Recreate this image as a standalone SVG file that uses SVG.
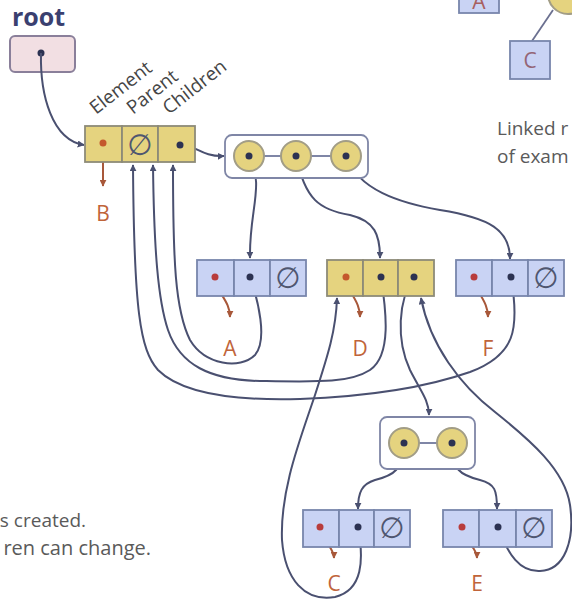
<svg xmlns="http://www.w3.org/2000/svg" width="572" height="602" viewBox="0 0 572 602">
  <style>
    .cell-y { fill: #e5d37f; stroke: #8d8b78; stroke-width: 1.8; }
    .cell-b { fill: #c9d3f4; stroke: #7886ac; stroke-width: 1.8; }
    .grp { fill: #ffffff; stroke: #7f86a6; stroke-width: 1.8; }
    .ring { fill: #e5d37f; stroke: #a29d86; stroke-width: 2; }
    .ptr { fill: #2c3252; }
    .elem-dot-y { fill: #c4582c; }
    .elem-dot-b { fill: #b83c3c; }
    .link { fill: none; stroke: #4a5070; stroke-width: 2; }
    .elink { fill: none; stroke: #a8583a; stroke-width: 2; }
    .null { font-family: "DejaVu Sans", sans-serif; font-size: 29px; fill: #4f5670; text-anchor: middle; }
    .lbl { font-family: "Open Sans", "Liberation Sans", sans-serif; font-size: 21px; fill: #c0643a; text-anchor: middle; }
    .field { font-family: "Open Sans", "Liberation Sans", sans-serif; font-size: 19px; fill: #454545; }
    .note { font-family: "Open Sans", "Liberation Sans", sans-serif; font-size: 19px; fill: #5a5a5a; }
  </style>
  <defs>
    <marker id="arr" viewBox="0 0 10 10" refX="9" refY="5" markerWidth="7" markerHeight="7" markerUnits="userSpaceOnUse" orient="auto">
      <path d="M0,0 L10,5 L0,10 z" fill="#4a5070"/>
    </marker>
    <marker id="earr" viewBox="0 0 10 10" refX="9" refY="5" markerWidth="7" markerHeight="7" markerUnits="userSpaceOnUse" orient="auto">
      <path d="M0,0 L10,5 L0,10 z" fill="#a8583a"/>
    </marker>
  </defs>

  <rect width="572" height="602" fill="#ffffff"/>

  <!-- small tree sketch, top right -->
  <g id="tree-sketch">
    <line x1="553" y1="10" x2="532" y2="41" stroke="#6b7090" stroke-width="1.8"/>
    <circle cx="568" cy="-6" r="20" class="ring"/>
    <rect x="459" y="-6" width="40" height="19" class="cell-b"/>
    <text x="479" y="9" class="lbl" style="fill:#a86060">A</text>
    <rect x="510" y="41" width="40" height="38" class="cell-b"/>
    <text x="530" y="68" class="lbl" style="fill:#946575">C</text>
  </g>

  <g id="caption-right">
    <text x="497" y="135" class="note">Linked r</text>
    <text x="497" y="163" class="note">of exam</text>
  </g>

  <g id="caption-left">
    <text x="86" y="527" class="note" text-anchor="end">s created.</text>
    <text x="151" y="555" class="note" text-anchor="end" style="font-size:20px">ren can change.</text>
  </g>

  <!-- root pointer -->
  <g id="root">
    <text x="12" y="26" font-family="'Open Sans', 'Liberation Sans', sans-serif" font-size="25" font-weight="bold" fill="#3a4070">root</text>
    <rect x="10" y="36" width="65" height="36" rx="5" fill="#f2dfe3" stroke="#8a7f9a" stroke-width="2"/>
    <circle cx="41" cy="53" r="3.5" class="ptr"/>
  </g>

  <!-- field names -->
  <g id="field-names">
    <text class="field" transform="translate(96,115) rotate(-38)">Element</text>
    <text class="field" transform="translate(133,115) rotate(-38)">Parent</text>
    <text class="field" transform="translate(169,115) rotate(-38)">Children</text>
  </g>

  <!-- connectors -->
  <g id="connectors">
    <path class="link" d="M41,53 C40,95 52,140 84,145" marker-end="url(#arr)"/>
    <path class="link" d="M180,145 C195,144 201,157 224,156" marker-end="url(#arr)"/>
    <path class="link" d="M249,156 C265,185 249,210 250,258" marker-end="url(#arr)"/>
    <path class="link" d="M296,156 C305,200 320,210 350,215 C375,221 380,235 380,258" marker-end="url(#arr)"/>
    <path class="link" d="M346,156 C358,190 400,203 440,210 C490,218 510,230 510,259" marker-end="url(#arr)"/>
    <path class="link" d="M414,277 C398,300 396,340 410,370 C420,390 429,400 429,415" marker-end="url(#arr)"/>
    <path class="link" d="M404,443 C402,470 395,475 375,480 C362,484 358,492 358,509" marker-end="url(#arr)"/>
    <path class="link" d="M452,443 C452,470 460,475 480,480 C495,484 497,490 497,509" marker-end="url(#arr)"/>

    <!-- parent links back to the root element -->
    <path class="link" d="M250,277 C258,300 268,340 255,355 C240,370 205,365 190,340 C175,310 173,260 173,165" marker-end="url(#arr)"/>
    <path class="link" d="M381,277 C386,310 392,355 370,370 C350,383 320,382 260,381 C210,380 180,365 168,330 C158,300 154,250 153,165" marker-end="url(#arr)"/>
    <path class="link" d="M511,277 C520,330 515,355 470,372 C430,386 380,396 300,399 C230,401 180,392 158,370 C140,350 134,310 133,165" marker-end="url(#arr)"/>
    <path class="link" d="M358,527 C364,560 363,590 335,597 C305,602 285,580 282,540 C280,490 300,440 315,395 C328,355 336,330 337,298" marker-end="url(#arr)"/>
    <path class="link" d="M498,527 C508,555 520,572 540,571 C565,570 575,540 570,505 C565,470 530,440 495,412 C460,385 430,345 421,298" marker-end="url(#arr)"/>

    <!-- element links -->
    <path class="elink" d="M103,143 L103,186" marker-end="url(#earr)"/>
    <path class="elink" d="M215,277 C216,293 230,300 230,317" marker-end="url(#earr)"/>
    <path class="elink" d="M346,277 C347,293 360,300 360,317" marker-end="url(#earr)"/>
    <path class="elink" d="M474,277 C475,293 488,300 488,317" marker-end="url(#earr)"/>
    <path class="elink" d="M320,527 C321,542 334,546 334,558" marker-end="url(#earr)"/>
    <path class="elink" d="M462,527 C463,542 477,546 477,558" marker-end="url(#earr)"/>
  </g>

  <!-- node B (root element) -->
  <g id="node-B">
    <rect x="85" y="126" width="37" height="36" class="cell-y"/>
    <rect x="122" y="126" width="36" height="36" class="cell-y"/>
    <rect x="158" y="126" width="37" height="36" class="cell-y"/>
    <circle cx="103" cy="143" r="3.5" class="elem-dot-y"/>
    <text x="140" y="155" class="null">∅</text>
    <circle cx="180" cy="145" r="3.5" class="ptr"/>
    <text x="103" y="221" class="lbl">B</text>
  </g>

  <g id="children-B">
    <rect x="225" y="135" width="143" height="43" rx="7" class="grp"/>
    <line x1="249" y1="156" x2="346" y2="156" stroke="#7f86a6" stroke-width="1.8"/>
    <circle cx="249" cy="156" r="15" class="ring"/>
    <circle cx="296" cy="156" r="15" class="ring"/>
    <circle cx="346" cy="156" r="15" class="ring"/>
    <circle cx="249" cy="156" r="3.5" class="ptr"/>
    <circle cx="296" cy="156" r="3.5" class="ptr"/>
    <circle cx="346" cy="156" r="3.5" class="ptr"/>
  </g>

  <g id="node-A">
    <rect x="197" y="260" width="37" height="36" class="cell-b"/>
    <rect x="234" y="260" width="36" height="36" class="cell-b"/>
    <rect x="270" y="260" width="36" height="36" class="cell-b"/>
    <circle cx="215" cy="277" r="3.5" class="elem-dot-b"/>
    <circle cx="250" cy="277" r="3.5" class="ptr"/>
    <text x="288" y="288" class="null">∅</text>
    <text x="230" y="356" class="lbl">A</text>
  </g>

  <g id="node-D">
    <rect x="327" y="260" width="36" height="36" class="cell-y"/>
    <rect x="363" y="260" width="35" height="36" class="cell-y"/>
    <rect x="398" y="260" width="36" height="36" class="cell-y"/>
    <circle cx="346" cy="277" r="3.5" class="elem-dot-y"/>
    <circle cx="381" cy="277" r="3.5" class="ptr"/>
    <circle cx="414" cy="277" r="3.5" class="ptr"/>
    <text x="360" y="356" class="lbl">D</text>
  </g>

  <g id="node-F">
    <rect x="456" y="260" width="36" height="36" class="cell-b"/>
    <rect x="492" y="260" width="36" height="36" class="cell-b"/>
    <rect x="528" y="260" width="36" height="36" class="cell-b"/>
    <circle cx="474" cy="277" r="3.5" class="elem-dot-b"/>
    <circle cx="511" cy="277" r="3.5" class="ptr"/>
    <text x="546" y="288" class="null">∅</text>
    <text x="488" y="356" class="lbl">F</text>
  </g>

  <g id="children-D">
    <rect x="380" y="417" width="95" height="52" rx="7" class="grp"/>
    <line x1="404" y1="443" x2="452" y2="443" stroke="#7f86a6" stroke-width="1.8"/>
    <circle cx="404" cy="443" r="15" class="ring"/>
    <circle cx="452" cy="443" r="15" class="ring"/>
    <circle cx="404" cy="443" r="3.5" class="ptr"/>
    <circle cx="452" cy="443" r="3.5" class="ptr"/>
  </g>

  <g id="node-C">
    <rect x="303" y="510" width="36" height="37" class="cell-b"/>
    <rect x="339" y="510" width="35" height="37" class="cell-b"/>
    <rect x="374" y="510" width="36" height="37" class="cell-b"/>
    <circle cx="320" cy="527" r="3.5" class="elem-dot-b"/>
    <circle cx="358" cy="527" r="3.5" class="ptr"/>
    <text x="392" y="538" class="null">∅</text>
    <text x="334" y="591" class="lbl">C</text>
  </g>

  <g id="node-E">
    <rect x="443" y="510" width="36" height="37" class="cell-b"/>
    <rect x="479" y="510" width="37" height="37" class="cell-b"/>
    <rect x="516" y="510" width="36" height="37" class="cell-b"/>
    <circle cx="462" cy="527" r="3.5" class="elem-dot-b"/>
    <circle cx="498" cy="527" r="3.5" class="ptr"/>
    <text x="534" y="538" class="null">∅</text>
    <text x="477" y="591" class="lbl">E</text>
  </g>
</svg>
